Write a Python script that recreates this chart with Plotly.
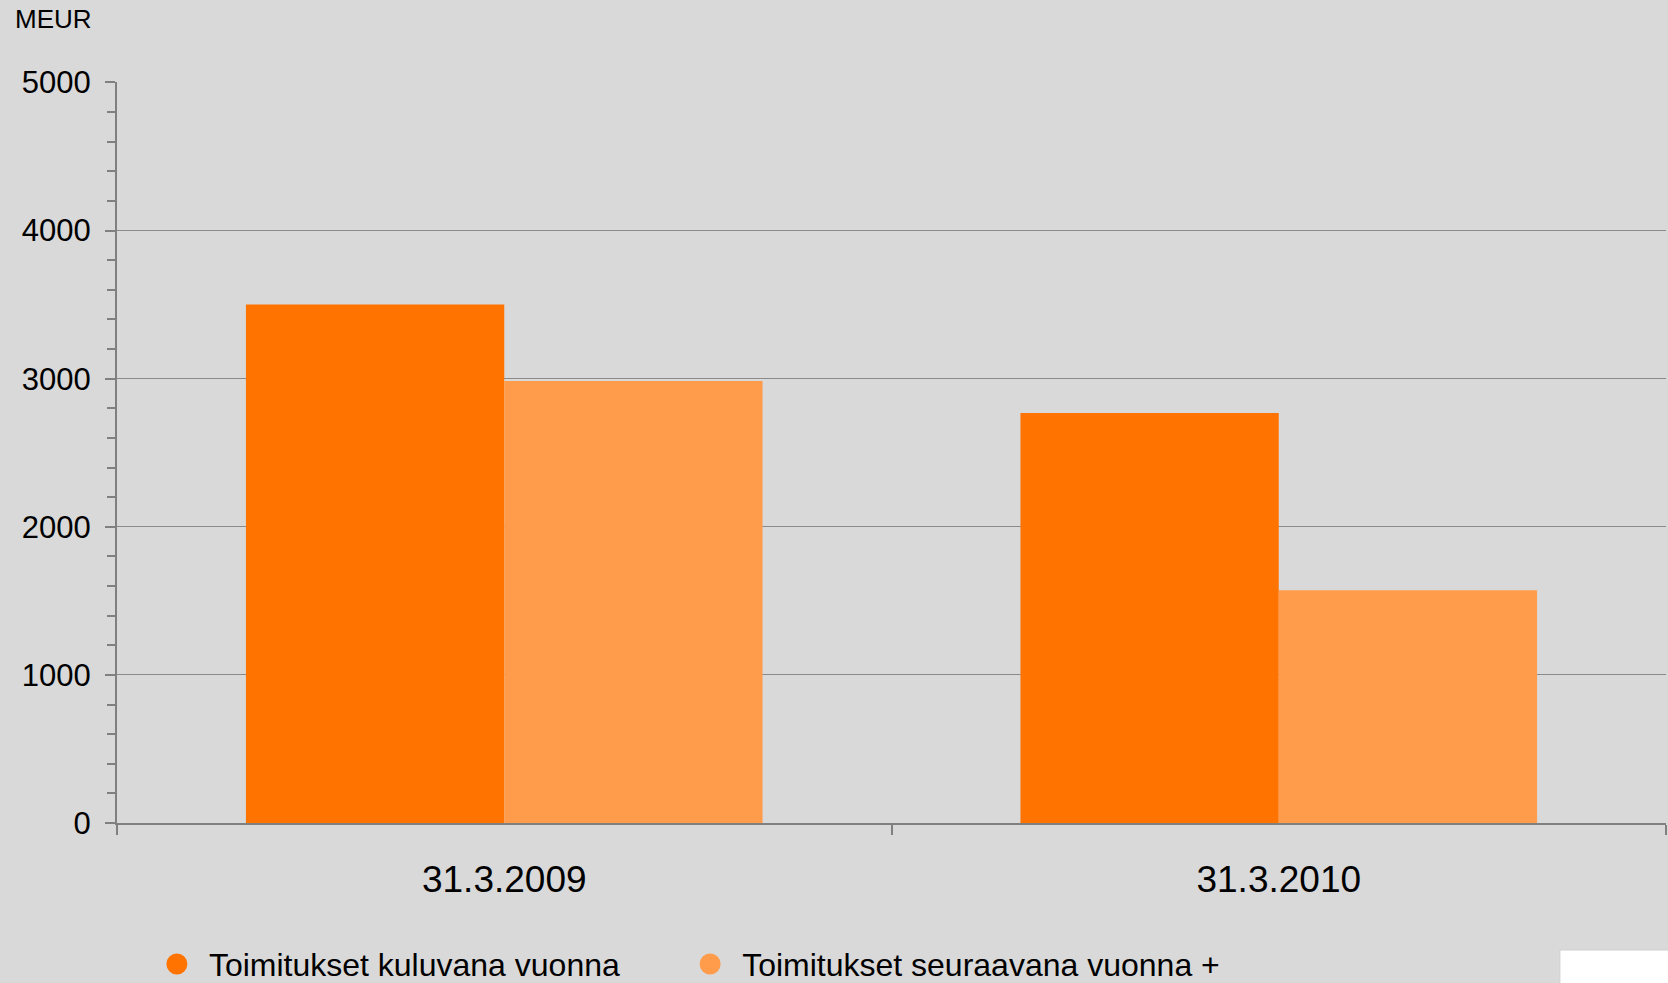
import plotly.graph_objects as go

categories = ["31.3.2009", "31.3.2010"]
series_names = ["Toimitukset kuluvana vuonna", "Toimitukset seuraavana vuonna +"]
current_year = [3500, 2768]
next_year = [2985, 1572]
colors = ["#FF7300", "#FF9C4B"]
y_ticks = [0, 1000, 2000, 3000, 4000, 5000]

FONT = "Liberation Sans, Arial, sans-serif"
legend_pad = ["\u00a0" * 6, ""]

fig = go.Figure()
for name, vals, col in zip(series_names, [current_year, next_year], colors):
    fig.add_trace(go.Bar(x=categories, y=vals, name=name, marker=dict(color=col, line=dict(width=0)),
                         showlegend=False))
for name, col, pad in zip(series_names, colors, legend_pad):
    fig.add_trace(go.Scatter(x=[None], y=[None], mode="markers", name=name + pad,
                             marker=dict(symbol="circle", size=16, color=col,
                                         line=dict(color=col, width=5))))

fig.update_layout(
    width=1668, height=983,
    paper_bgcolor="#D9D9D9", plot_bgcolor="#D9D9D9",
    margin=dict(l=117, r=2, t=82, b=160, autoexpand=False),
    barmode="group", bargap=0.333, bargroupgap=0,
    font=dict(family=FONT, color="#000000"),
    legend=dict(orientation="h", x=0.018, xanchor="left", y=-0.1905, yanchor="middle",
                font=dict(size=32, family=FONT), itemwidth=54,
                bgcolor="rgba(0,0,0,0)", tracegroupgap=0),
    showlegend=True,
)
fig.update_xaxes(
    type="category", showline=True, linecolor="#808080", linewidth=2,
    ticks="outside", tickson="boundaries", ticklen=10, tickwidth=2, tickcolor="#808080",
    tickfont=dict(size=37, family=FONT), ticklabelstandoff=23,
    showgrid=False, range=[-0.5, 1.5],
)
fig.update_yaxes(
    range=[0, 5003], tickvals=y_ticks, showline=True, linecolor="#808080", linewidth=2,
    ticks="outside", ticklen=10, tickwidth=2, tickcolor="#808080",
    tickfont=dict(size=31, family=FONT), ticklabelstandoff=8,
    showgrid=True, gridcolor="#8A8A8A", gridwidth=1, zeroline=False,
    minor=dict(dtick=200, ticks="outside", ticklen=8, tickwidth=1.5, tickcolor="#808080", showgrid=False),
)
fig.add_annotation(text="MEUR", xref="paper", yref="paper", x=-0.067, y=1.085,
                   xanchor="left", yanchor="middle", showarrow=False,
                   font=dict(size=26, family=FONT, color="#000000"))
fig.add_shape(type="rect", xref="paper", yref="paper", x0=0.9315, x1=1.1, y0=-0.1714, y1=-0.26,
              fillcolor="#FFFFFF", line=dict(color="#CFCFCF", width=1), layer="above")

fig.write_html("out.html", config={"displayModeBar": False},
               post_script="document.body.style.margin='0';document.body.style.background='#D9D9D9';")
